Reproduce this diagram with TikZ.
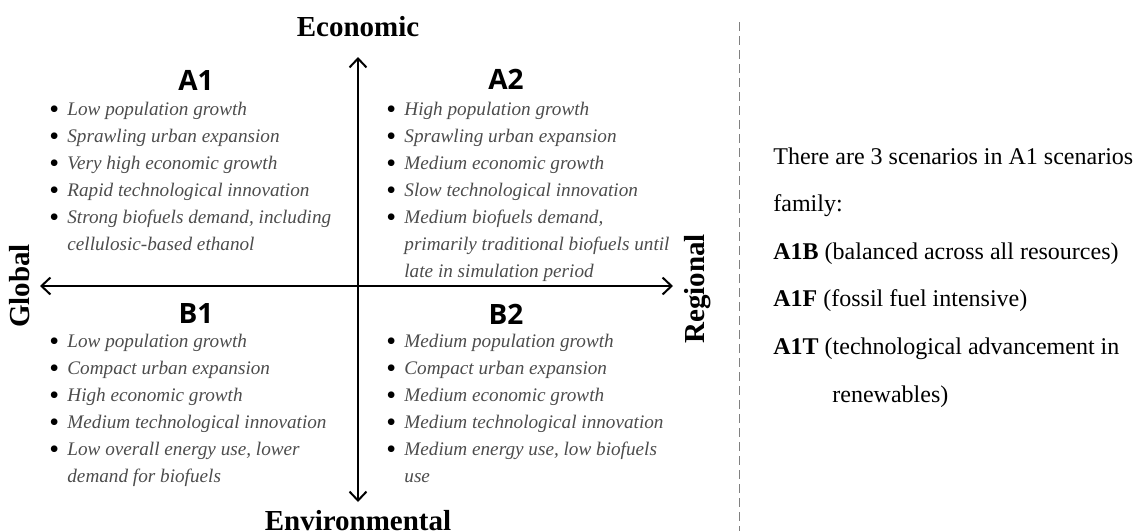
\documentclass[tikz,border=0pt]{standalone}
\usepackage{fontspec}
\setmainfont{Liberation Serif}
\newfontfamily\headfont{Open Sans}
\usetikzlibrary{arrows.meta,positioning}
\definecolor{listgray}{gray}{0.3}
\newcommand{\bitem}[1]{\makebox[9pt][l]{\color{black}\upshape\raisebox{-1.3pt}{\fontsize{14}{0}\selectfont\textbullet}}#1}
\newcommand{\bcont}[1]{\hspace*{9pt}#1}
\tikzset{
	axis/.style={line width=1pt, {Straight Barb[length=4.5pt,width=8.5pt]}-{Straight Barb[length=4.5pt,width=8.5pt]}},
	axislabel/.style={font=\fontsize{14.5}{17}\selectfont\bfseries, inner sep=0pt},
	quadtitle/.style={font=\headfont\fontsize{14}{16}\selectfont\bfseries, inner sep=0pt},
	quadlist/.style={font=\fontsize{9.6}{13.5}\selectfont\itshape, text=listgray, align=left, anchor=north west, inner sep=0pt},
	divider/.style={gray, line width=0.5pt, dash pattern=on 4.5pt off 2.5pt},
	notetext/.style={font=\fontsize{12}{23.8}\selectfont, align=left, anchor=north west, inner sep=0pt}
}
\begin{document}
\begin{tikzpicture}[x=0.5pt, y=-0.5pt]
	\useasboundingbox (0,0) rectangle (1136,531);
	\coordinate (ntip) at (358,57);
	\coordinate (stip) at (358,502);
	\coordinate (wtip) at (40,286);
	\coordinate (etip) at (673,286);
	\draw[axis] (ntip) -- (stip);
	\draw[axis] (wtip) -- (etip);
	\node[axislabel, anchor=base] (econ) at (358,36) {Economic};
	\node[axislabel, anchor=base] (envi) at (358,530) {Environmental};
	\node[axislabel, rotate=90] (glob) at (20,286) {Global};
	\node[axislabel, rotate=90] (regi) at (698,289) {Regional};

	\node[quadtitle] (a1) at (196,80) {A1};
	\node[quadtitle] (a2) at (506,79) {A2};
	\node[quadtitle] (b1) at (196,313) {B1};
	\node[quadtitle] (b2) at (506,314) {B2};

	\node[quadlist] (a1list) at (49,102) {\bitem{Low population growth}\\ \bitem{Sprawling urban expansion}\\ \bitem{Very high economic growth}\\ \bitem{Rapid technological innovation}\\ \bitem{Strong biofuels demand, including}\\ \bcont{cellulosic-based ethanol}};
	\node[quadlist] (a2list) at (386,102) {\bitem{High population growth}\\ \bitem{Sprawling urban expansion}\\ \bitem{Medium economic growth}\\ \bitem{Slow technological innovation}\\ \bitem{Medium biofuels demand,}\\ \bcont{primarily traditional biofuels until}\\ \bcont{late in simulation period}};
	\node[quadlist] (b1list) at (49,334) {\bitem{Low population growth}\\ \bitem{Compact urban expansion}\\ \bitem{High economic growth}\\ \bitem{Medium technological innovation}\\ \bitem{Low overall energy use, lower}\\ \bcont{demand for biofuels}};
	\node[quadlist] (b2list) at (386,334) {\bitem{Medium population growth}\\ \bitem{Compact urban expansion}\\ \bitem{Medium economic growth}\\ \bitem{Medium technological innovation}\\ \bitem{Medium energy use, low biofuels}\\ \bcont{use}};

	\coordinate (dtop) at (739,22);
	\coordinate (dbot) at (739,531);
	\draw[divider] (dtop) -- (dbot);
	\node[notetext] (note) at (773,147) {There are 3 scenarios in A1 scenarios\\ family:\\ \textbf{A1B} (balanced across all resources)\\ \textbf{A1F} (fossil fuel intensive)\\ \textbf{A1T} (technological advancement in\\ \hspace*{29.5pt}renewables)};
\end{tikzpicture}
\end{document}
